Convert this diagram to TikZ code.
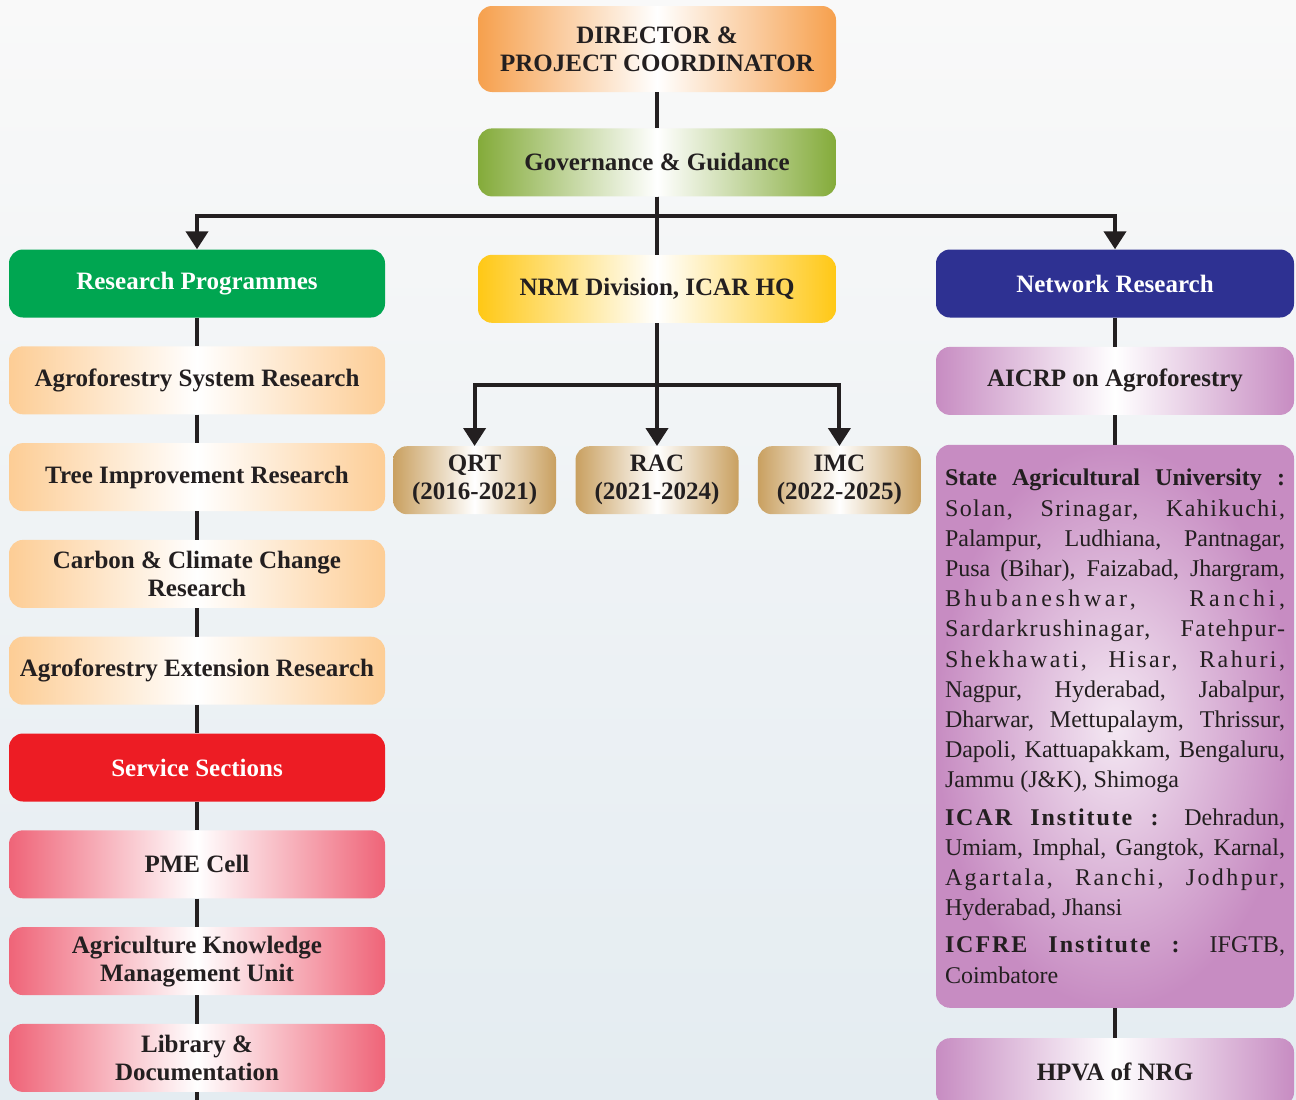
\documentclass[tikz,border=0pt]{standalone}
\usepackage{fontspec}
\setmainfont{Liberation Serif}
\usepackage{tikz}
\usetikzlibrary{positioning,arrows.meta}
\setlength{\parindent}{0pt}
\newcommand{\spaced}[2]{{\addfontfeature{LetterSpace=#1}#2}}

\definecolor{txtdark}{HTML}{231F20}
\definecolor{orangeE}{HTML}{F6A04D}
\definecolor{greenE}{HTML}{84AB3A}
\definecolor{yellowE}{HTML}{FFC815}
\definecolor{peachE}{HTML}{FDCD95}
\definecolor{pinkE}{HTML}{EF6478}
\definecolor{tanE}{HTML}{C9A060}
\definecolor{lilacE}{HTML}{C78CC2}
\definecolor{lilacM}{HTML}{F4E8F3}
\definecolor{greenS}{HTML}{00A651}
\definecolor{navyS}{HTML}{2E3192}
\definecolor{redS}{HTML}{ED1C24}
\definecolor{bgtop}{HTML}{F9F9F9}
\definecolor{bgbottom}{HTML}{E4ECF1}

\tikzstyle{box}=[rectangle, rounded corners=14pt, align=center, inner sep=0pt,
        minimum height=68pt, text=txtdark, font=\bfseries\fontsize{25}{28}\selectfont]
\tikzstyle{leftbox}=[box, minimum width=376pt]
\tikzstyle{sidebox}=[box, minimum width=358pt]
\tikzstyle{yearbox}=[box, minimum width=163pt, left color=tanE, right color=tanE, middle color=white]
\tikzstyle{link}=[line width=4pt, draw=txtdark]
\tikzstyle{myarrow}=[link, -{Triangle[width=22pt,length=18pt]}]
\tikzset{glow/.style={left color=#1, right color=#1, middle color=white}}

\begin{document}
\begin{tikzpicture}[x=1pt, y=-1pt]

	\clip (0,0) rectangle (1296,1100);
	\fill[top color=bgtop, bottom color=bgbottom] (0,0) rectangle (1296,1100);

	% top
	\node (director) [sidebox, glow=orangeE, minimum height=86pt] at (657,49)
        {DIRECTOR \&\\PROJECT COORDINATOR};
	\node (gov) [sidebox, glow=greenE, below=36pt of director] {Governance \& Guidance};
	\node (nrm) [sidebox, glow=yellowE, below=58pt of gov] {NRM Division, ICAR HQ};

	% NRM committees
	\node (rac) [yearbox, below=123pt of nrm] {RAC\\(2021-2024)};
	\node (qrt) [yearbox, left=19pt of rac] {QRT\\(2016-2021)};
	\node (imc) [yearbox, right=19pt of rac] {IMC\\(2022-2025)};

	% left column
	\node (resprog) [leftbox, fill=greenS, text=white] at (197,283.5) {Research Programmes};
	\node (afsr) [leftbox, glow=peachE, below=28.4pt of resprog] {Agroforestry System Research};
	\node (tir) [leftbox, glow=peachE, below=28.4pt of afsr] {Tree Improvement Research};
	\node (ccr) [leftbox, glow=peachE, below=28.4pt of tir] {Carbon \& Climate Change\\Research};
	\node (aer) [leftbox, glow=peachE, below=28.4pt of ccr] {Agroforestry Extension Research};
	\node (service) [leftbox, fill=redS, text=white, below=28.4pt of aer] {Service Sections};
	\node (pme) [leftbox, glow=pinkE, below=28.4pt of service] {PME Cell};
	\node (akmu) [leftbox, glow=pinkE, below=28.4pt of pme] {Agriculture Knowledge\\Management Unit};
	\node (libdoc) [leftbox, glow=pinkE, below=28.4pt of akmu] {Library \&\\Documentation};
	\coordinate (leftfoot) at (197,1100);

	% right column
	\node (network) [sidebox, fill=navyS, text=white] at (1115,283.5) {Network Research};
	\node (aicrp) [sidebox, glow=lilacE, below=29pt of network] {AICRP on Agroforestry};
	\node (centres) [sidebox, inner color=lilacM, outer color=lilacE, minimum height=563pt,
        text width=340pt, align=justify, font=\fontsize{24}{30.2}\selectfont,
        below=29.5pt of aicrp]
        {
            \tolerance=10000\hyphenpenalty=10000
            \textbf{State Agricultural University :}\linebreak
            \spaced{6}{Solan, Srinagar, Kahikuchi,}\linebreak
            Palampur, Ludhiana, Pantnagar,\linebreak
            Pusa (Bihar), Faizabad, Jhargram,\linebreak
            \spaced{15}{Bhubaneshwar, Ranchi,}\linebreak
            \spaced{6}{Sardarkrushinagar, Fatehpur-}\linebreak
            \spaced{10}{Shekhawati, Hisar, Rahuri,}\linebreak
            Nagpur, Hyderabad, Jabalpur,\linebreak
            Dharwar, Mettupalaym, Thrissur,\linebreak
            Dapoli, Kattuapakkam, Bengaluru,\linebreak
            Jammu (J\&K), Shimoga\par\vspace{7pt}
            \textbf{\spaced{8}{ICAR Institute :}} Dehradun,\linebreak
            Umiam, Imphal, Gangtok, Karnal,\linebreak
            \spaced{10}{Agartala, Ranchi, Jodhpur,}\linebreak
            Hyderabad, Jhansi\par\vspace{7pt}
            \textbf{\spaced{8}{ICFRE Institute :}} IFGTB,\linebreak
            Coimbatore
        };
	\node (hpva) [sidebox, glow=lilacE, below=30pt of centres] {HPVA of NRG};
	\coordinate (rightfoot) at (1115,1100);

\draw[link] (director.south) -- (gov.north);
\draw[link] (gov.south) -- (nrm.north);
\draw[myarrow] (gov.south) --++(0,19) -| (resprog.north);
\draw[myarrow] (gov.south) --++(0,19) -| (network.north);

\draw[myarrow] (nrm.south) --++(0,62) -| (qrt.north);
\draw[myarrow] (nrm.south) -- (rac.north);
\draw[myarrow] (nrm.south) --++(0,62) -| (imc.north);

\foreach \a/\b in {resprog/afsr, afsr/tir, tir/ccr, ccr/aer, aer/service,
        service/pme, pme/akmu, akmu/libdoc}
    \draw[link] (\a.south) -- (\b.north);
\draw[link] (libdoc.south) -- (leftfoot);

\draw[link] (network.south) -- (aicrp.north);
\draw[link] (aicrp.south) -- (centres.north);
\draw[link] (centres.south) -- (hpva.north);

\end{tikzpicture}
\end{document}
